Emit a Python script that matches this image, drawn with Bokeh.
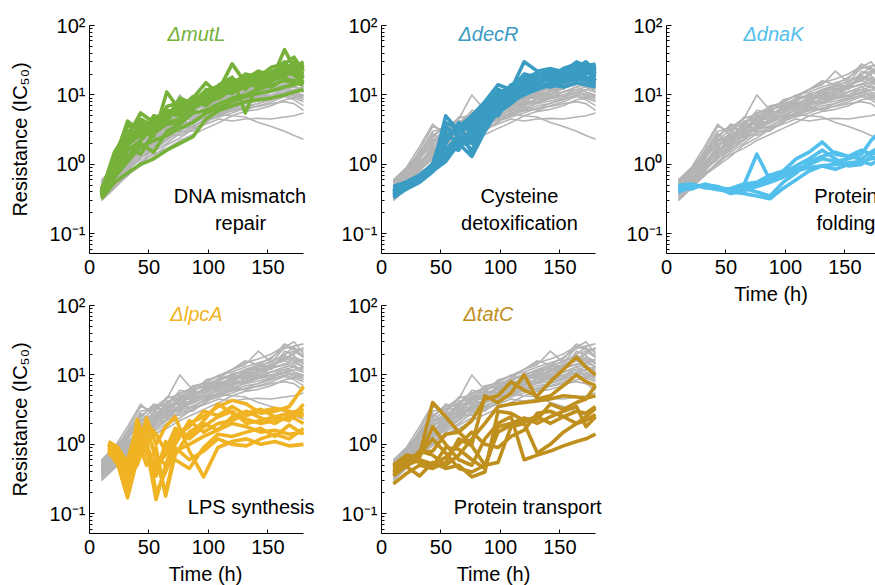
from bokeh.plotting import figure
from bokeh.layouts import row, column
from bokeh.models import FixedTicker, Label, Range1d
from bokeh.embed import file_html
from bokeh.resources import INLINE

# ---------------- data ----------------
time_h = [10, 21, 32, 43, 54, 65, 76, 87, 98, 109, 120, 131, 142, 153, 164, 172, 180]
time_lpcA_h = [16, 24, 32, 40, 48, 56, 64, 72, 84, 96, 108, 120, 132, 144, 156, 168, 180]

wild_type = [
    [0.45, 0.65, 1.0, 1.9, 2.4, 3.0, 4.5, 5.5, 6.0, 7.5, 9.0, 11, 10, 13, 18, 16, 15],
    [0.50, 0.75, 1.3, 2.8, 2.0, 3.8, 5.0, 4.2, 6.5, 8.0, 7.0, 12, 14, 12, 20, 22, 18],
    [0.40, 0.55, 0.85, 1.2, 1.8, 2.6, 3.2, 4.0, 5.2, 6.0, 7.5, 8.0, 9.5, 11, 12, 13, 12],
    [0.55, 0.80, 1.6, 3.5, 3.0, 4.5, 10, 6.0, 7.0, 9.0, 12, 14, 22, 15, 25, 30, 20],
    [0.35, 0.50, 0.75, 1.0, 1.5, 2.0, 2.8, 3.5, 4.5, 5.0, 6.0, 7.0, 7.5, 8.5, 10, 9.0, 8.0],
    [0.45, 0.70, 1.1, 1.6, 2.2, 3.5, 4.0, 4.8, 5.0, 5.2, 5.0, 4.8, 4.0, 3.5, 3.0, 2.6, 2.3],
    [0.60, 0.90, 1.4, 2.2, 3.2, 4.0, 5.5, 6.5, 8.0, 10, 11, 13, 15, 17, 28, 24, 22],
    [0.30, 0.45, 0.70, 0.95, 1.3, 1.9, 2.4, 3.2, 3.8, 4.5, 4.2, 4.5, 4.6, 4.5, 4.8, 5.0, 5.5],
    [0.50, 0.60, 0.90, 1.5, 2.6, 2.8, 3.6, 5.8, 5.5, 6.5, 9.5, 9.0, 12, 14, 16, 15, 17],
    [0.42, 0.68, 1.2, 2.0, 2.1, 3.1, 3.0, 4.5, 7.0, 6.5, 8.0, 10.5, 9.0, 11, 13, 11, 10],
    [0.48, 0.72, 1.0, 1.4, 2.8, 3.3, 4.8, 5.2, 6.2, 9.0, 10, 9.5, 11.5, 13, 14, 18, 16],
    [0.38, 0.58, 0.95, 1.7, 1.9, 2.3, 3.4, 3.9, 4.8, 5.5, 6.5, 7.5, 8.2, 9.0, 11, 12, 13],
    [0.55, 0.85, 1.5, 2.5, 3.6, 3.0, 4.5, 7.0, 7.5, 8.5, 10, 12, 13, 14, 16, 20, 25],
    [0.44, 0.62, 0.90, 1.3, 2.0, 2.7, 2.6, 3.3, 4.0, 5.8, 6.8, 6.0, 7.0, 8.0, 9.5, 8.5, 7.0],
    [0.52, 0.78, 1.2, 2.3, 2.2, 4.2, 4.4, 5.0, 6.8, 7.2, 8.8, 11, 12.5, 12, 22, 19, 14],
    [0.40, 0.62, 1.05, 1.8, 2.5, 2.4, 3.8, 4.2, 5.6, 7.8, 7.2, 9.0, 10.5, 11, 13, 14, 11],
    [0.47, 0.70, 1.1, 1.5, 2.3, 3.6, 3.3, 4.6, 5.0, 6.0, 7.8, 8.5, 9.5, 10, 12, 10, 9.0],
    [0.36, 0.52, 0.80, 1.25, 1.6, 2.2, 3.0, 3.0, 4.2, 4.8, 5.5, 6.5, 6.8, 7.5, 8.0, 7.5, 6.0],
    [0.58, 0.90, 1.8, 3.8, 2.6, 3.5, 6.0, 5.5, 8.5, 9.5, 12, 16, 14, 18, 24, 26, 28],
    [0.33, 0.48, 0.68, 1.1, 1.4, 1.7, 2.2, 2.7, 3.3, 4.0, 5.0, 5.8, 6.2, 7.0, 8.5, 9.0, 10],
    [0.50, 0.80, 1.4, 2.6, 3.4, 4.6, 5.2, 6.8, 7.8, 9.8, 12, 15, 17, 20, 26, 23, 19],
    [0.42, 0.60, 0.95, 1.6, 2.0, 3.2, 4.2, 4.0, 5.8, 6.8, 8.2, 9.8, 11, 12.5, 14, 15, 13],
    [0.46, 0.66, 1.15, 2.4, 3.8, 3.4, 4.0, 5.6, 6.0, 8.8, 9.2, 10, 13, 16, 19, 17, 15],
    [0.38, 0.56, 0.85, 1.35, 2.2, 2.5, 3.6, 4.4, 5.0, 6.2, 7.0, 8.0, 9.0, 10, 11, 9.5, 8.5],
    [0.54, 0.82, 1.3, 2.1, 2.8, 4.8, 4.6, 6.0, 7.2, 8.0, 10.5, 11, 14, 15, 20, 25, 18],
    [0.31, 0.47, 0.72, 1.05, 1.7, 2.3, 3.5, 3.4, 4.6, 5.4, 6.2, 7.8, 8.8, 9.5, 10.5, 12, 11],
    [0.49, 0.70, 1.05, 1.7, 2.9, 2.7, 4.4, 5.0, 6.6, 7.0, 9.2, 8.8, 10, 12.5, 14.5, 13, 12],
    [0.41, 0.64, 1.25, 2.1, 2.4, 3.9, 3.7, 5.4, 6.2, 7.6, 8.5, 10, 11.5, 13.5, 17, 21, 24],
    [0.57, 0.88, 1.45, 3.0, 3.3, 3.1, 4.9, 6.2, 6.9, 8.7, 9.8, 11.8, 12, 14, 18, 16, 13],
    [0.37, 0.54, 0.82, 1.2, 1.9, 2.9, 3.1, 3.6, 4.4, 5.2, 5.9, 6.3, 7.6, 8.8, 9.8, 10.5, 9.5],
]

mutL = [
    [0.40, 1.2, 3.5, 4.0, 3.0, 6.0, 5.5, 9.0, 15, 10, 14, 20, 18, 16, 45, 25, 30],
    [0.35, 0.9, 2.5, 5.5, 4.0, 5.0, 8.0, 7.0, 10, 12, 28, 15, 20, 18, 25, 22, 20],
    [0.32, 0.55, 0.75, 1.0, 1.2, 1.6, 2.0, 2.5, 4.5, 6.0, 7.0, 8.0, 8.5, 9.0, 10, 11, 12],
    [0.45, 1.0, 2.0, 3.0, 2.5, 11, 6.0, 8.0, 9.0, 14, 18, 5.5, 15, 20, 22, 30, 25],
    [0.38, 0.8, 1.6, 2.2, 3.5, 4.0, 4.5, 6.5, 8.0, 9.0, 12, 14, 16, 20, 18, 24, 18],
    [0.42, 1.1, 4.2, 3.0, 2.8, 5.0, 7.0, 6.0, 12, 11, 15, 17, 22, 19, 30, 20, 15],
    [0.36, 0.7, 1.3, 2.0, 1.5, 3.0, 3.8, 5.5, 6.0, 7.5, 9.0, 10, 12, 14, 16, 15, 14],
    [0.40, 1.5, 3.0, 2.5, 5.0, 4.5, 9.0, 7.5, 11, 13, 16, 12, 18, 25, 28, 35, 22],
    [0.44, 0.9, 1.8, 1.4, 2.8, 3.8, 4.0, 8.5, 7.0, 10, 11, 13, 15, 13, 17, 16, 19],
    [0.34, 0.65, 1.1, 1.8, 2.2, 2.6, 3.3, 4.0, 5.5, 6.5, 8.0, 9.5, 10.5, 11.5, 13, 14, 16],
    [0.38, 1.0, 2.8, 4.5, 3.6, 4.8, 6.5, 7.0, 9.5, 12, 13, 15, 17, 22, 24, 20, 26],
    [0.41, 0.85, 2.2, 3.2, 4.5, 5.8, 6.2, 9.5, 8.5, 11, 14, 18, 16, 18, 21, 28, 24],
    [0.37, 1.3, 3.8, 3.4, 3.2, 4.2, 7.5, 6.8, 10.5, 9.0, 12.5, 16, 19, 17, 23, 19, 21],
    [0.43, 0.95, 1.9, 2.7, 3.9, 5.5, 5.0, 7.8, 9.0, 11.5, 10.5, 14, 13.5, 16, 19, 22, 17],
    [0.39, 1.15, 2.4, 3.6, 2.9, 6.8, 7.8, 8.2, 11.5, 13.5, 17, 15, 19, 21, 26, 23, 28],
]

decR = [
    [0.40, 0.50, 0.62, 0.85, 5.0, 3.0, 4.0, 7.0, 10, 12, 20, 18, 22, 20, 26, 22, 25],
    [0.35, 0.48, 0.58, 0.80, 1.1, 2.0, 1.3, 3.0, 6.0, 9.0, 14, 16, 18, 20, 24, 28, 20],
    [0.45, 0.52, 0.65, 0.95, 2.5, 3.5, 5.0, 8.0, 14, 12, 30, 22, 24, 21, 30, 26, 28],
    [0.38, 0.46, 0.60, 0.90, 1.8, 1.6, 3.5, 6.0, 5.0, 10, 16, 15, 17, 16, 20, 18, 17],
    [0.42, 0.55, 0.68, 1.0, 3.5, 2.5, 1.6, 3.8, 7.0, 9.5, 12, 14, 13, 15, 17, 16, 14],
    [0.33, 0.44, 0.55, 0.78, 1.3, 2.8, 4.5, 5.5, 8.0, 11, 18, 20, 16, 22, 25, 30, 22],
    [0.48, 0.56, 0.70, 1.0, 4.0, 3.2, 2.2, 4.5, 6.5, 13, 15, 17, 21, 19, 23, 20, 26],
    [0.36, 0.47, 0.62, 0.88, 1.5, 2.2, 3.0, 4.0, 6.0, 8.0, 10, 12, 14, 13, 15, 14, 13],
    [0.44, 0.50, 0.66, 0.92, 2.0, 4.0, 1.4, 5.0, 9.0, 8.5, 13, 19, 18, 24, 28, 24, 19],
    [0.40, 0.53, 0.64, 0.86, 2.8, 2.0, 2.6, 6.5, 12, 10, 17, 14, 19, 17, 21, 23, 16],
    [0.41, 0.51, 0.63, 0.90, 3.2, 2.9, 3.6, 5.8, 9.5, 11, 16, 18, 20, 18, 22, 25, 21],
    [0.37, 0.49, 0.61, 0.84, 1.6, 2.6, 2.0, 4.8, 7.5, 9.8, 13, 15, 19, 21, 20, 22, 18],
    [0.46, 0.54, 0.69, 0.97, 2.2, 3.8, 3.0, 6.0, 8.5, 14, 17, 21, 23, 22, 27, 24, 27],
    [0.39, 0.48, 0.60, 0.83, 1.4, 1.9, 2.4, 3.4, 5.5, 7.5, 11, 13, 15, 16, 18, 17, 15],
    [0.43, 0.52, 0.67, 0.94, 2.6, 3.3, 4.2, 7.5, 11, 12.5, 18, 16, 20, 23, 24, 27, 23],
]

dnaK = [
    [0.45, 0.50, 0.48, 0.45, 0.42, 0.50, 1.4, 0.60, 0.70, 0.85, 1.0, 1.2, 1.1, 1.2, 1.4, 2.2, 3.0],
    [0.40, 0.47, 0.50, 0.48, 0.40, 0.38, 0.35, 0.32, 0.45, 0.60, 0.80, 0.95, 1.0, 1.05, 1.1, 1.2, 1.3],
    [0.50, 0.52, 0.46, 0.44, 0.45, 0.52, 0.55, 0.70, 0.80, 1.2, 1.5, 2.1, 1.4, 1.3, 1.2, 1.5, 1.8],
    [0.42, 0.48, 0.50, 0.46, 0.38, 0.42, 0.48, 0.55, 0.65, 0.80, 0.90, 0.95, 0.85, 1.0, 1.1, 1.0, 1.2],
    [0.47, 0.44, 0.52, 0.47, 0.43, 0.45, 0.40, 0.35, 0.55, 0.75, 1.1, 1.3, 1.5, 1.3, 1.6, 1.4, 1.5],
    [0.44, 0.50, 0.49, 0.43, 0.41, 0.47, 0.52, 0.62, 0.75, 0.95, 1.2, 1.6, 1.2, 0.95, 1.0, 1.3, 1.1],
]

lpcA = [
    [1.0, 0.70, 0.25, 2.3, 1.0, 0.40, 0.90, 1.5, 1.2, 1.8, 2.5, 3.0, 2.0, 2.2, 2.5, 2.8, 3.2],
    [0.8, 0.50, 0.17, 0.6, 1.8, 0.60, 0.20, 0.8, 1.0, 1.3, 1.6, 2.0, 1.8, 1.5, 1.6, 1.4, 1.5],
    [1.1, 0.90, 0.50, 1.5, 0.9, 0.16, 0.50, 1.2, 2.0, 2.5, 3.5, 4.3, 3.8, 2.8, 3.0, 3.5, 6.8],
    [0.9, 0.60, 0.40, 0.7, 2.4, 1.0, 1.8, 2.5, 0.8, 0.34, 0.9, 1.1, 1.2, 1.0, 1.1, 0.95, 1.0],
    [0.7, 0.80, 0.30, 1.2, 0.5, 0.90, 0.18, 0.7, 1.5, 2.0, 1.6, 2.5, 3.0, 2.4, 2.0, 2.6, 2.0],
    [1.0, 0.55, 0.60, 1.8, 0.7, 0.35, 1.1, 0.6, 0.45, 0.9, 1.4, 1.3, 1.5, 1.7, 1.3, 1.9, 1.4],
    [0.85, 0.65, 0.22, 1.0, 1.5, 0.70, 0.50, 1.0, 2.2, 1.5, 2.0, 2.2, 2.8, 3.2, 2.5, 2.2, 3.8],
    [0.95, 0.75, 0.45, 2.0, 0.8, 0.50, 0.70, 1.3, 1.8, 3.0, 2.6, 3.5, 2.6, 3.0, 3.3, 3.0, 2.5],
    [0.75, 0.60, 0.35, 0.5, 1.2, 0.20, 0.40, 0.9, 0.6, 0.8, 1.2, 1.0, 0.95, 1.2, 1.4, 1.2, 1.7],
    [1.05, 0.85, 0.55, 0.9, 2.0, 1.4, 0.80, 1.7, 1.3, 2.2, 3.8, 2.8, 2.3, 2.0, 2.2, 2.4, 2.9],
]

tatC = [
    [0.45, 0.55, 0.70, 4.0, 2.5, 1.5, 2.2, 4.5, 5.0, 8.0, 6.0, 5.0, 8.0, 12, 18, 13, 10],
    [0.40, 0.60, 0.75, 0.8, 1.4, 1.5, 1.0, 5.0, 4.0, 5.5, 10, 4.5, 5.0, 7.0, 10, 8.0, 7.0],
    [0.50, 0.70, 0.65, 1.8, 1.0, 0.6, 0.5, 1.2, 2.0, 2.5, 0.60, 0.70, 0.80, 0.95, 1.1, 1.2, 1.4],
    [0.27, 0.38, 0.50, 0.45, 0.55, 1.2, 0.95, 0.50, 0.55, 1.8, 2.0, 0.75, 1.0, 1.5, 2.0, 2.2, 2.7],
    [0.42, 0.48, 0.35, 0.55, 0.45, 0.50, 0.34, 0.40, 3.0, 2.8, 2.2, 2.5, 2.0, 2.5, 3.0, 2.8, 3.5],
    [0.38, 0.52, 0.80, 0.70, 0.50, 0.70, 1.2, 2.0, 3.5, 3.8, 4.0, 4.2, 4.5, 5.0, 4.8, 4.6, 5.0],
    [0.48, 0.62, 0.55, 0.48, 0.90, 0.85, 0.60, 0.45, 1.8, 2.0, 2.4, 2.0, 2.5, 3.0, 3.5, 1.8, 2.5],
    [0.44, 0.56, 0.72, 1.2, 0.75, 0.45, 0.40, 0.50, 1.5, 1.9, 2.1, 2.3, 3.8, 3.2, 4.0, 4.5, 7.0],
    [0.35, 0.50, 0.60, 0.52, 0.65, 1.0, 1.5, 1.0, 0.9, 1.3, 1.6, 2.8, 3.0, 2.5, 2.0, 2.5, 3.3],
]

panel_titles = ["\u0394mutL", "\u0394decR", "\u0394dnaK", "\u0394lpcA", "\u0394tatC"]
panel_notes = ["DNA mismatch\nrepair", "Cysteine\ndetoxification", "Protein\nfolding",
               "LPS synthesis", "Protein transport"]
panel_colors = ["#76b13a", "#3a9bc3", "#52bfec", "#f0b323", "#c0901e"]
grey = "#b4b4b4"

x_ticks = [0, 50, 100, 150]
x_end = 180
y_ticks = [0.1, 1, 10, 100]
y_tick_labels = ["10\u207b\u00b9", "10\u2070", "10\u00b9", "10\u00b2"]
y_minor = [k * 10.0 ** d for d in (-2, -1, 0, 1) for k in range(2, 10)]

FONT = "Liberation Sans"
PX_PER_H = 214 / 180.0


def make_panel(title, color, lines, times, note, note_x, note_y, frame_w,
               left, right, top, bottom, ylabel, xlabel):
    p = figure(y_axis_type="log",
               x_range=Range1d(0, frame_w / PX_PER_H),
               y_range=Range1d(0.052, 100),
               frame_width=frame_w, frame_height=228,
               min_border_left=left, min_border_right=right,
               min_border_top=top, min_border_bottom=bottom,
               output_backend="svg", toolbar_location=None)
    p.outline_line_color = None
    p.grid.visible = False
    p.background_fill_color = None
    p.border_fill_color = None

    for vals in wild_type:
        p.line(time_h, vals, line_color=grey, line_width=1.6, line_join="round")
    for vals in lines:
        p.line(times, vals, line_color=color, line_width=3.6, line_join="round")

    # axes
    xa = p.xaxis[0]
    xa.ticker = FixedTicker(ticks=x_ticks)
    xa.bounds = (0, x_end)
    xa.major_tick_in = 4
    xa.major_tick_out = 0
    xa.minor_tick_line_color = None
    xa.major_label_standoff = 6
    xa.major_label_text_font = FONT
    xa.major_label_text_font_size = "20px"
    xa.major_label_text_color = "black"
    xa.axis_line_color = "black"
    xa.major_tick_line_color = "black"
    if xlabel:
        xa.axis_label = xlabel
        xa.axis_label_text_font = FONT
        xa.axis_label_text_font_size = "20px"
        xa.axis_label_text_font_style = "normal"
        xa.axis_label_text_color = "black"
        xa.axis_label_standoff = 6

    ya = p.yaxis[0]
    ya.ticker = FixedTicker(ticks=y_ticks, minor_ticks=y_minor)
    ya.major_label_overrides = dict(zip(y_ticks, y_tick_labels))
    ya.major_tick_in = 5
    ya.major_tick_out = 0
    ya.minor_tick_in = 3
    ya.minor_tick_out = 0
    ya.major_label_standoff = 4
    ya.major_label_text_font = FONT
    ya.major_label_text_font_size = "20px"
    ya.major_label_text_color = "black"
    ya.axis_line_color = "black"
    ya.major_tick_line_color = "black"
    ya.minor_tick_line_color = "black"
    if ylabel:
        ya.axis_label = ylabel
        ya.axis_label_text_font = FONT
        ya.axis_label_text_font_size = "20px"
        ya.axis_label_text_font_style = "normal"
        ya.axis_label_text_color = "black"
        ya.axis_label_standoff = 16

    p.add_layout(Label(x=90, y=75, text=title, text_color=color,
                       text_font=FONT, text_font_size="20px", text_font_style="italic",
                       text_align="center", text_baseline="middle"))
    p.add_layout(Label(x=note_x, y=note_y, text=note, text_color="black",
                       text_font=FONT, text_font_size="20px",
                       text_align="center", text_baseline="middle", text_line_height=1.2))
    return p


p1 = make_panel(panel_titles[0], panel_colors[0], mutL, time_h, panel_notes[0], 127, 0.225,
                232, 89, 0, 25, 37, "Resistance (IC\u2085\u2080)", None)
p2 = make_panel(panel_titles[1], panel_colors[1], decR, time_h, panel_notes[1], 116, 0.225,
                224, 60, 0, 25, 37, None, None)
p3 = make_panel(panel_titles[2], panel_colors[2], dnaK, time_h, panel_notes[2], 151, 0.225,
                209, 61, 0, 25, 60, None, "Time (h)")
p4 = make_panel(panel_titles[3], panel_colors[3], lpcA, time_lpcA_h, panel_notes[3], 136, 0.124,
                232, 89, 0, 15, 52, "Resistance (IC\u2085\u2080)", "Time (h)")
p5 = make_panel(panel_titles[4], panel_colors[4], tatC, time_h, panel_notes[4], 123, 0.124,
                224, 60, 0, 15, 52, None, "Time (h)")

layout = row(column(p1, p4), column(p2, p5), p3)

open("out.html", "w").write(file_html(layout, INLINE))
